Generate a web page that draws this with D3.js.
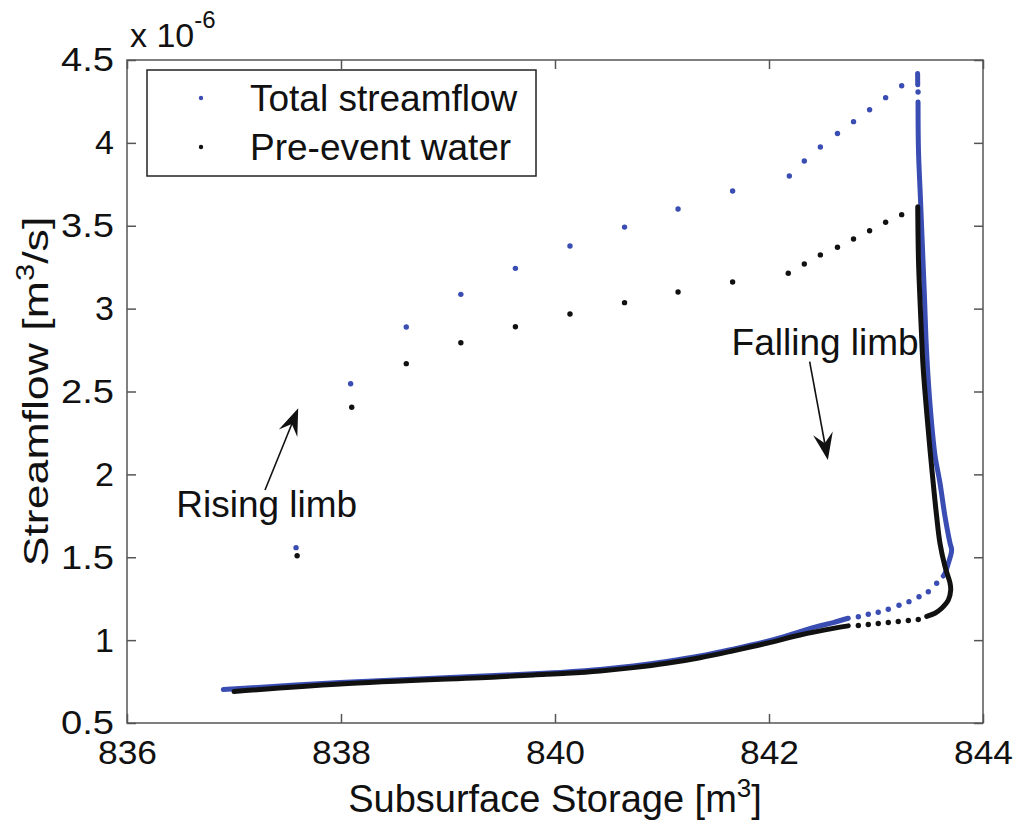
<!DOCTYPE html>
<html>
<head>
<meta charset="utf-8">
<script src="https://cdn.jsdelivr.net/npm/d3@7"></script>
<style>
  body { margin: 0; background: #fff; }
  text { font-family: "Liberation Sans", Arial, sans-serif; fill: #111; }
</style>
</head>
<body>
<div id="vis"></div>
<script>
// storage [m^3] vs streamflow [x 1e-6 m^3/s]
var xTicks = [836, 838, 840, 842, 844];
var yTicks = [0.5, 1, 1.5, 2, 2.5, 3, 3.5, 4, 4.5];
var yTickLabels = ["0.5", "1", "1.5", "2", "2.5", "3", "3.5", "4", "4.5"];

// total streamflow: single time steps (sparse dots)
var totalDots = [
  [837.58, 1.558], [838.09, 2.547], [838.61, 2.889], [839.12, 3.086], [839.63, 3.243],
  [840.14, 3.378], [840.65, 3.492], [841.15, 3.601], [841.66, 3.710], [842.19, 3.800],
  [842.33, 3.891], [842.48, 3.975], [842.64, 4.057], [842.79, 4.128], [842.94, 4.200],
  [843.09, 4.273], [843.24, 4.345], [843.393, 4.307],
  [843.567, 1.343], [843.489, 1.292], [843.402, 1.262], [843.308, 1.232], [843.215, 1.210],
  [843.115, 1.186], [843.021, 1.168], [842.928, 1.156], [842.835, 1.141]
];
// total streamflow: dense runs of time steps
var totalPeak = [[843.389, 4.418], [843.390, 4.350]];
var totalFalling = [
  [843.393, 4.247], [843.397, 3.957], [843.416, 3.655], [843.435, 3.354], [843.454, 3.052],
  [843.472, 2.750], [843.509, 2.388], [843.551, 2.117], [843.598, 1.948], [843.645, 1.745],
  [843.692, 1.584], [843.707, 1.544], [843.676, 1.463], [843.645, 1.403], [843.629, 1.387]
];
var totalBaseflow = [
  [842.741, 1.132], [842.601, 1.106], [842.446, 1.081], [842.290, 1.051], [842.134, 1.019],
  [841.978, 0.992], [841.666, 0.946], [841.355, 0.904], [841.044, 0.871], [840.732, 0.844],
  [840.421, 0.823], [840.109, 0.808], [839.797, 0.797], [839.486, 0.788], [837.991, 0.744],
  [836.900, 0.702]
];

// pre-event water
var preDots = [
  [837.59, 1.509], [838.10, 2.405], [838.61, 2.668], [839.12, 2.794], [839.63, 2.891],
  [840.14, 2.968], [840.65, 3.036], [841.15, 3.100], [841.66, 3.161], [842.18, 3.213],
  [842.33, 3.269], [842.48, 3.324], [842.64, 3.370], [842.79, 3.420], [842.94, 3.470],
  [843.09, 3.521], [843.24, 3.567],
  [843.395, 1.124], [843.302, 1.118], [843.208, 1.112], [843.115, 1.106], [843.021, 1.100],
  [842.928, 1.094], [842.835, 1.088]
];
var preFalling = [
  [843.390, 3.615], [843.397, 3.293], [843.411, 3.052], [843.425, 2.850], [843.440, 2.650],
  [843.472, 2.388], [843.505, 2.147], [843.535, 1.946], [843.567, 1.745], [843.598, 1.584],
  [843.645, 1.443], [843.692, 1.343], [843.698, 1.302], [843.676, 1.242], [843.614, 1.192],
  [843.551, 1.162], [843.474, 1.143]
];
var preBaseflow = [
  [842.741, 1.086], [842.601, 1.071], [842.290, 1.031], [841.978, 0.981], [841.666, 0.936],
  [841.355, 0.894], [841.044, 0.860], [840.732, 0.834], [840.421, 0.814], [840.109, 0.800],
  [839.797, 0.790], [839.486, 0.779], [837.991, 0.735], [837.000, 0.690]
];

var seriesNames = ["Total streamflow", "Pre-event water"];
var seriesColors = ["#3a4db3", "#111111"];

var elem_width = 1020;
var elem_height = 832;
var box = { left: 127, right: 983, top: 60, bottom: 723 };

var svg = d3.select("#vis")
  .append("svg")
  .attr("width", elem_width)
  .attr("height", elem_height);

var x = d3.scaleLinear().domain([836, 844]).range([box.left, box.right]);
var y = d3.scaleLinear().domain([0.5, 4.5]).range([box.bottom, box.top]);

// ticks on all four sides, pointing inward
svg.append("g")
  .attr("transform", "translate(0," + box.bottom + ")")
  .call(d3.axisBottom(x).tickValues(xTicks).tickSize(-9).tickPadding(17).tickFormat(d3.format("d")))
  .call(function(g) { g.select(".domain").remove(); })
  .call(function(g) {
    g.selectAll("text").style("font-size", "34px")
      .attr("textLength", 59).attr("lengthAdjust", "spacingAndGlyphs");
  });

svg.append("g")
  .attr("transform", "translate(0," + box.top + ")")
  .call(d3.axisTop(x).tickValues(xTicks).tickSize(-9).tickFormat(""))
  .call(function(g) { g.select(".domain").remove(); });

svg.append("g")
  .attr("transform", "translate(" + box.left + ",0)")
  .call(d3.axisLeft(y).tickValues(yTicks).tickSize(-9).tickPadding(13)
    .tickFormat(function(d, i) { return yTickLabels[i]; }))
  .call(function(g) { g.select(".domain").remove(); })
  .call(function(g) {
    g.selectAll("text").style("font-size", "34px")
      .filter(function(d, i) { return yTickLabels[i].length > 1; })
      .attr("textLength", 53).attr("lengthAdjust", "spacingAndGlyphs");
  });

svg.append("g")
  .attr("transform", "translate(" + box.right + ",0)")
  .call(d3.axisRight(y).tickValues(yTicks).tickSize(-9).tickFormat(""))
  .call(function(g) { g.select(".domain").remove(); });

svg.selectAll(".tick line").attr("stroke", "#555").attr("stroke-width", 1.5);

svg.append("rect")
  .attr("x", box.left).attr("y", box.top)
  .attr("width", box.right - box.left).attr("height", box.bottom - box.top)
  .attr("fill", "none").attr("stroke", "#555").attr("stroke-width", 1.5);

// data
var line = d3.line()
  .x(function(d) { return x(d[0]); })
  .y(function(d) { return y(d[1]); })
  .curve(d3.curveCatmullRom.alpha(0.5));

function drawSeries(traces, dots, color) {
  var g = svg.append("g");
  g.selectAll("path")
    .data(traces).enter()
    .append("path")
    .attr("d", line)
    .attr("fill", "none")
    .attr("stroke", color)
    .attr("stroke-width", 5)
    .attr("stroke-linecap", "round")
    .attr("stroke-linejoin", "round");
  g.selectAll("circle")
    .data(dots).enter()
    .append("circle")
    .attr("cx", function(d) { return x(d[0]); })
    .attr("cy", function(d) { return y(d[1]); })
    .attr("r", 2.7)
    .attr("fill", color);
}

drawSeries([totalPeak, totalFalling, totalBaseflow], totalDots, seriesColors[0]);
drawSeries([preFalling, preBaseflow], preDots, seriesColors[1]);

// exponent label
var expo = svg.append("text").attr("x", 130).attr("y", 47).style("font-size", "34px");
expo.append("tspan").text("x 10");
expo.append("tspan").attr("dy", -19).style("font-size", "24px").text("-6");

// axis titles
var xt = svg.append("text")
  .attr("x", (box.left + box.right) / 2).attr("y", 812)
  .attr("text-anchor", "middle").style("font-size", "38px");
xt.append("tspan").text("Subsurface Storage [m");
xt.append("tspan").attr("dy", -15).style("font-size", "26px").text("3");
xt.append("tspan").attr("dy", 15).text("]");

var yt = svg.append("text")
  .attr("transform", "translate(48," + ((box.top + box.bottom) / 2) + ") rotate(-90) scale(1.24,1)")
  .attr("text-anchor", "middle").style("font-size", "36px");
yt.append("tspan").text("Streamflow [m");
yt.append("tspan").attr("dy", -14).style("font-size", "25px").text("3");
yt.append("tspan").attr("dy", 14).text("/s]");

// annotations
function arrow(x0, y0, x1, y1) {
  var p0 = [x(x0), y(y0)], p1 = [x(x1), y(y1)];
  var dx = p1[0] - p0[0], dy = p1[1] - p0[1];
  var len = Math.sqrt(dx * dx + dy * dy);
  var ux = dx / len, uy = dy / len, nx = -uy, ny = ux;
  var L = 27, W = 10, N = 17;
  svg.append("line")
    .attr("x1", p0[0]).attr("y1", p0[1])
    .attr("x2", p1[0] - ux * N).attr("y2", p1[1] - uy * N)
    .attr("stroke", "#111").attr("stroke-width", 1.6);
  var head = [
    p1,
    [p1[0] - ux * L + nx * W, p1[1] - uy * L + ny * W],
    [p1[0] - ux * N, p1[1] - uy * N],
    [p1[0] - ux * L - nx * W, p1[1] - uy * L - ny * W]
  ];
  svg.append("path").attr("d", "M" + head.join("L") + "Z").attr("fill", "#111");
}

svg.append("text").attr("x", x(836.46)).attr("y", y(1.74)).style("font-size", "37px").text("Rising limb");
arrow(837.29, 1.906, 837.60, 2.399);
svg.append("text").attr("x", x(841.65)).attr("y", y(2.72)).style("font-size", "37px").text("Falling limb");
arrow(842.38, 2.68, 842.55, 2.087);

// legend
var lg = svg.append("g");
lg.append("rect")
  .attr("x", 147).attr("y", 70).attr("width", 389).attr("height", 106)
  .attr("fill", "#fff").attr("stroke", "#222").attr("stroke-width", 1.5);
var items = lg.selectAll(".item")
  .data(seriesNames).enter()
  .append("g")
  .attr("transform", function(d, i) { return "translate(0," + (98 + i * 49) + ")"; });
items.append("circle")
  .attr("cx", 201).attr("cy", 0).attr("r", 2.2)
  .attr("fill", function(d, i) { return seriesColors[i]; });
items.append("text")
  .attr("x", 250).attr("y", 12.5)
  .style("font-size", "37px")
  .text(function(d) { return d; });
</script>
</body>
</html>
